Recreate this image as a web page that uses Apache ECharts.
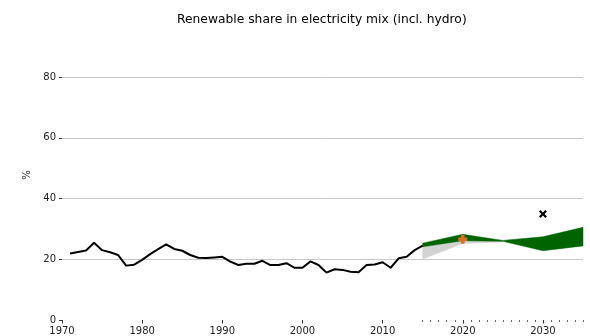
<!DOCTYPE html>
<html>
<head>
<meta charset="utf-8">
<script src="https://cdn.jsdelivr.net/npm/echarts@6/dist/echarts.min.js"></script>
<style>
  html, body { margin: 0; padding: 0; background: #fff; }
  #chart { width: 590px; height: 336px; }
</style>
</head>
<body>
<div id="chart"></div>
<script>
// Historical renewable share (%), 1971-2015
const years = [];
for (let y = 1971; y <= 2015; y++) years.push(y);
const share = [21.9, 22.4, 22.9, 25.4, 23.0, 22.3, 21.4, 17.9, 18.2, 19.8,
  21.7, 23.3, 24.9, 23.4, 22.8, 21.4, 20.5, 20.4, 20.6, 20.8,
  19.2, 18.1, 18.5, 18.5, 19.5, 18.1, 18.1, 18.7, 17.2, 17.2,
  19.3, 18.1, 15.6, 16.7, 16.5, 15.9, 15.7, 18.1, 18.3, 19.0,
  17.2, 20.3, 20.8, 23.0, 24.5];

// Projection ranges
const bandYears = [2015, 2020, 2025, 2030, 2035];
const greenHigh = [25.3, 28.2, 26.2, 27.4, 30.5];
const greenLow = [24.1, 26.1, 25.9, 22.8, 24.4];
const grayYears = [2015, 2020, 2025];
const grayHigh = [24.1, 26.1, 25.9];
const grayLow = [20.1, 25.2, 25.7];

// Single-point markers
const targetPoint = [2020, 26.6];
const crossPoint = [2030, 34.9];

// Tick positions for the overlay axes
const tickYears = [];
for (let y = 1970; y <= 2035; y++) tickYears.push(String(y));

const FONT = 'DejaVu Sans';

function bandSeries(name, xs, lo, hi, color, z) {
  const pts = xs.map((x, i) => [x, lo[i], hi[i]]);
  return {
    name, type: 'custom', z,
    data: pts,
    encode: { x: 0, y: [1, 2] },
    silent: true,
    renderItem(params, api) {
      if (params.dataIndex !== 0) return { type: 'group', children: [] };
      const top = pts.map(p => api.coord([p[0], p[2]]));
      const bottom = pts.map(p => api.coord([p[0], p[1]])).reverse();
      return {
        type: 'polygon',
        shape: { points: top.concat(bottom) },
        style: { fill: color, stroke: color, lineWidth: 0.5 }
      };
    }
  };
}

const chart = echarts.init(document.getElementById('chart'), null, { renderer: 'canvas' });
chart.setOption({
  animation: false,
  backgroundColor: '#fff',
  title: {
    text: 'Renewable share in electricity mix (incl. hydro)',
    left: 172, top: 9,
    textStyle: { fontFamily: FONT, fontSize: 12.3, fontWeight: 'normal', color: '#000' }
  },
  grid: { left: 62, right: 7, top: 77, bottom: 16, containLabel: false },
  xAxis: [
    {
      type: 'value', min: 1970, max: 2035, interval: 10,
      axisLine: { show: false }, axisTick: { show: false }, splitLine: { show: false },
      axisLabel: {
        margin: 6, color: '#222', fontFamily: FONT, fontSize: 10,
        formatter: v => (v % 10 === 0 ? String(v) : '')
      }
    },
    {
      // major ticks every decade
      type: 'category', data: tickYears, boundaryGap: false, position: 'bottom',
      axisLine: { show: false }, axisLabel: { show: false }, splitLine: { show: false },
      axisTick: {
        length: 3.5, lineStyle: { color: '#333', width: 1 },
        interval: (i, v) => Number(v) % 10 === 0 && Number(v) <= 2030
      }
    },
    {
      // yearly minor ticks for the projection period
      type: 'category', data: tickYears, boundaryGap: false, position: 'bottom',
      axisLine: { show: false }, axisLabel: { show: false }, splitLine: { show: false },
      axisTick: {
        length: 2, lineStyle: { color: '#666', width: 1 },
        interval: (i, v) => Number(v) >= 2015 && Number(v) % 10 !== 0
      }
    }
  ],
  yAxis: {
    type: 'value', min: 0, max: 80, interval: 20,
    name: '%', nameLocation: 'middle', nameGap: 27, nameRotate: 90,
    nameTextStyle: { fontFamily: FONT, fontSize: 10, color: '#222', padding: [0, 0, 0, 47] },
    axisLine: { show: false },
    axisTick: { show: true, length: 3, lineStyle: { color: '#333' } },
    axisLabel: { margin: 6, color: '#222', fontFamily: FONT, fontSize: 10 },
    splitLine: {
      show: true,
      lineStyle: { color: ['transparent', '#c8c8c8', '#c8c8c8', '#c8c8c8', '#c8c8c8'], width: 1 }
    }
  },
  series: [
    bandSeries('gray range', grayYears, grayLow, grayHigh, '#d3d3d3', 1),
    bandSeries('green range', bandYears, greenLow, greenHigh, '#006400', 2),
    {
      name: 'historical', type: 'line', z: 3,
      data: years.map((y, i) => [y, share[i]]),
      showSymbol: false, smooth: false,
      lineStyle: { color: '#000', width: 2 }
    },
    {
      name: 'target', type: 'scatter', z: 4,
      data: [targetPoint],
      symbol: 'path://M3,0H7V3H10V7H7V10H3V7H0V3H3Z', symbolSize: 9,
      itemStyle: { color: '#dd6f22', opacity: 1 }
    },
    {
      name: 'goal', type: 'scatter', z: 4,
      data: [crossPoint],
      symbol: 'path://M0,2L2,0L5,3L8,0L10,2L7,5L10,8L8,10L5,7L2,10L0,8L3,5Z', symbolSize: 8,
      itemStyle: { color: '#000', opacity: 1 }
    }
  ]
});
</script>
</body>
</html>
